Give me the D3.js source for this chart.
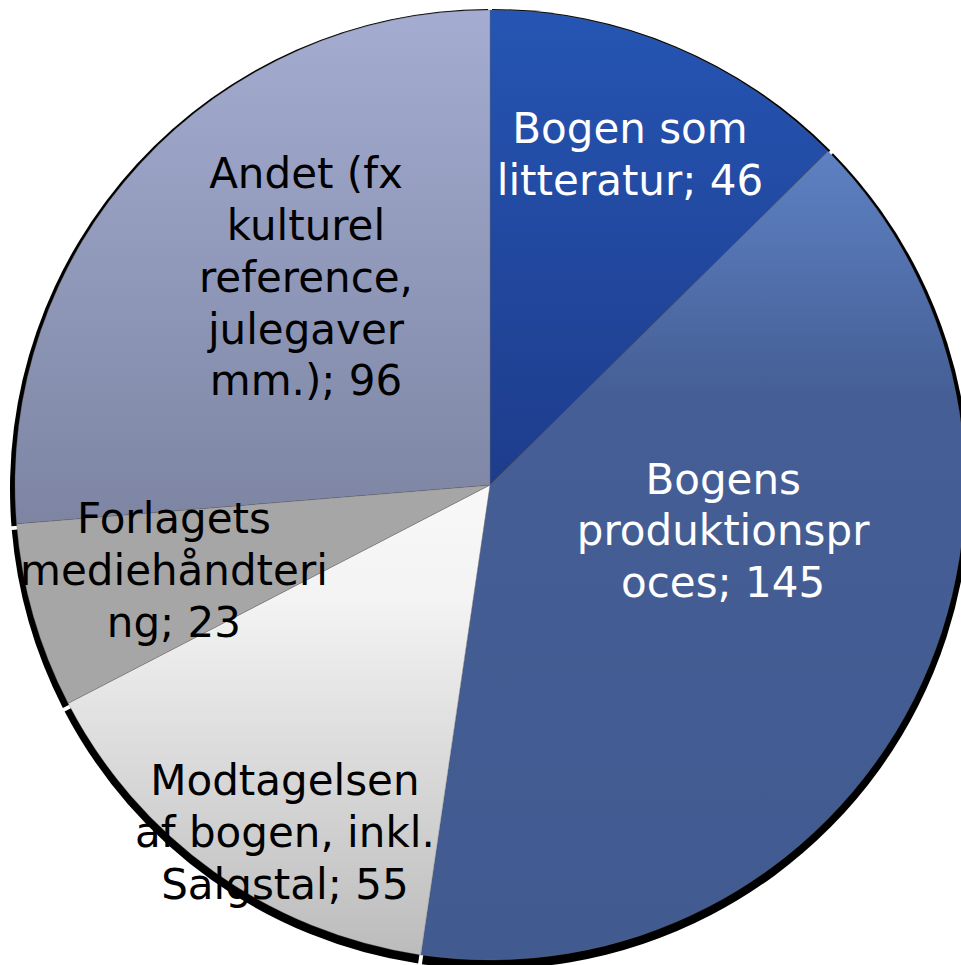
<!DOCTYPE html>
<html>
<head>
<meta charset="utf-8">
<script src="https://cdn.jsdelivr.net/npm/d3@7"></script>
<style>
    html, body { margin: 0; padding: 0; background: #ffffff; }
    #pie-area { width: 961px; height: 965px; }
    .slice-label { font-family: "DejaVu Sans", Verdana, sans-serif; font-size: 42px; }
</style>
</head>
<body>
<div id="pie-area"></div>
<script>
// data
const categories = [
    "Bogen som litteratur",
    "Bogens produktionsproces",
    "Modtagelsen af bogen, inkl. Salgstal",
    "Forlagets mediehåndtering",
    "Andet (fx kulturel reference, julegaver mm.)"
];
const values = [46, 145, 55, 23, 96];

// label text as it wraps in the original
const labelLines = [
    ["Bogen som", "litteratur; 46"],
    ["Bogens", "produktionspr", "oces; 145"],
    ["Modtagelsen", "af bogen, inkl.", "Salgstal; 55"],
    ["Forlagets", "mediehåndteri", "ng; 23"],
    ["Andet (fx", "kulturel", "reference,", "julegaver", "mm.); 96"]
];


/* * * * * * * * * * * * * *
*         PieChart         *
* * * * * * * * * * * * * */

class PieChart {

    constructor(_parentElement) {
        this.parentElement = _parentElement;
        this.initVis();
    }

    initVis() {
        let vis = this;

        vis.width = 961;
        vis.height = 965;
        vis.cx = 490;
        vis.cy = 485;
        vis.radius = 475;

        vis.svg = d3.select("#" + vis.parentElement).append("svg")
            .attr("width", vis.width)
            .attr("height", vis.height);

        // fills per slice (top -> bottom of each slice)
        vis.fills = [
            [[0, "#2555b3"], [1, "#1e3c8c"]],
            [[0, "#5e81c3"], [0.3, "#455f96"], [1, "#415b91"]],
            [[0, "#f8f8f8"], [0.25, "#f3f3f3"], [1, "#bcbcbc"]],
            [[0, "#a6a6a6"], [1, "#a6a6a6"]],
            [[0, "#a4add1"], [1, "#7d85a3"]]
        ];
        vis.textColor = ["#ffffff", "#ffffff", "#000000", "#000000", "#000000"];

        // where the label sits: t = position across the slice angle, r = fraction of radius
        vis.labelSpot = [
            {t: 0.505, r: 0.757},
            {t: 0.389, r: 0.500},
            {t: 0.409, r: 0.849},
            {t: 0.543, r: 0.689},
            {t: 0.562, r: 0.585}
        ];

        let defs = vis.svg.append("defs");
        vis.fills.forEach(function (stops, i) {
            let grad = defs.append("linearGradient")
                .attr("id", "fill" + i)
                .attr("x1", 0).attr("y1", 0)
                .attr("x2", 0).attr("y2", 1);
            stops.forEach(function (s) {
                grad.append("stop")
                    .attr("offset", s[0])
                    .attr("stop-color", s[1]);
            });
        });

        vis.chart = vis.svg.append("g")
            .attr("transform", "translate(" + vis.cx + "," + vis.cy + ")");

        vis.pie = d3.pie()
            .sort(null)
            .value(function (d) { return d.value; });

        vis.arc = d3.arc()
            .innerRadius(0)
            .outerRadius(vis.radius);

        vis.shadowArc = d3.arc()
            .innerRadius(0)
            .outerRadius(vis.radius + 5)
            .padAngle(0.008);

        vis.wrangleData();
    }

    wrangleData() {
        let vis = this;

        vis.displayData = categories.map(function (c, i) {
            return {name: c, value: values[i], lines: labelLines[i], index: i};
        });

        vis.updateVis();
    }

    updateVis() {
        let vis = this;

        let arcs = vis.pie(vis.displayData);

        // drop shadow under the pie
        vis.chart.append("g")
            .attr("transform", "translate(0,4)")
            .selectAll(".shadow")
            .data(arcs)
            .enter()
            .append("path")
            .attr("class", "shadow")
            .attr("d", vis.shadowArc)
            .style("fill", "#000000");

        vis.chart.selectAll(".slice")
            .data(arcs)
            .enter()
            .append("path")
            .attr("class", "slice")
            .attr("d", vis.arc)
            .style("fill", function (d, i) { return "url(#fill" + i + ")"; })
            .style("stroke", "#6a6a6a")
            .style("stroke-opacity", 0.45)
            .style("stroke-width", 0.7);

        // labels
        let lineHeight = 51.8;

        let label = vis.chart.selectAll(".slice-label")
            .data(arcs)
            .enter()
            .append("text")
            .attr("class", "slice-label")
            .attr("text-anchor", "middle")
            .style("fill", function (d, i) { return vis.textColor[i]; })
            .attr("transform", function (d, i) {
                let spot = vis.labelSpot[i];
                let a = d.startAngle + spot.t * (d.endAngle - d.startAngle);
                let r = spot.r * vis.radius;
                return "translate(" + [r * Math.sin(a), -r * Math.cos(a)] + ")";
            });

        label.each(function (d) {
            let n = d.data.lines.length;
            let first = -(n - 1) * lineHeight / 2 + 15;
            d3.select(this).selectAll("tspan")
                .data(d.data.lines)
                .enter()
                .append("tspan")
                .attr("x", 0)
                .attr("y", function (l, j) { return first + j * lineHeight; })
                .text(function (l) { return l; });
        });
    }
}

let pieChart = new PieChart("pie-area");
</script>
</body>
</html>
